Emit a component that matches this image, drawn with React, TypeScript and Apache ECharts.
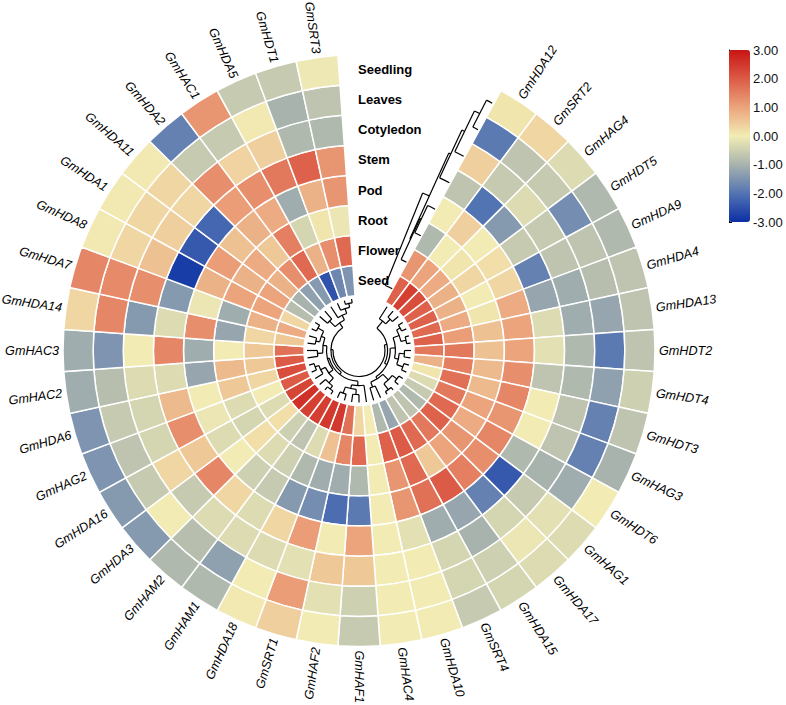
import React, { useEffect, useRef } from "react";
import * as echarts from "echarts";

// genes clockwise from the gap (top)
const genes = [
  "GmHDA12", "GmSRT2", "GmHAG4", "GmHDT5", "GmHDA9", "GmHDA4", "GmHDA13", "GmHDT2",
  "GmHDT4", "GmHDT3", "GmHAG3", "GmHDT6", "GmHAG1", "GmHDA17", "GmHDA15", "GmSRT4",
  "GmHDA10", "GmHAC4", "GmHAF1", "GmHAF2", "GmSRT1", "GmHDA18", "GmHAM1", "GmHAM2",
  "GmHDA3", "GmHDA16", "GmHAG2", "GmHDA6", "GmHAC2", "GmHAC3", "GmHDA14", "GmHDA7",
  "GmHDA8", "GmHDA1", "GmHDA11", "GmHDA2", "GmHAC1", "GmHDA5", "GmHDT1", "GmSRT3",
];

// rings, inner -> outer
const tissues = ["Seed", "Flower", "Root", "Pod", "Stem", "Cotyledon", "Leaves", "Seedling"];

const seedlingVals = [0.1, 0.3, -0.3, -0.9, -0.9, -0.7, -0.7, -0.7, -0.5, -0.7, -1.0, 0.0, -0.3, -0.3, -0.4, -0.6, 0.0, 0.0, -0.6, 0.0, 0.4, 0.05, -0.9, -0.9, -1.4, -1.4, -1.5, -1.5, -1.1, -1.1, 0.3, 1.4, 0.05, 0.05, 0.05, -1.8, 1.2, -0.6, -0.6, -0.05];
const leavesVals = [-1.9, -0.7, -0.6, -1.6, -0.7, -0.8, -1.2, -1.9, -1.3, -1.8, -1.8, -1.1, -0.2, -0.1, -0.5, -0.4, 0.0, 0.0, -0.5, -0.2, 1.1, 0.0, -1.3, -0.8, 0.0, -0.6, -0.7, -0.6, -0.8, -1.5, 1.4, 1.35, 0.3, 0.3, 0.3, -0.6, -0.6, 0.05, -1.0, -0.7];
const cotyledonVals = [0.4, -0.6, -0.3, -0.6, -0.7, -1.1, -1.1, -0.9, -0.9, -0.7, -0.7, -1.0, -0.6, -0.4, -1.0, -0.4, 0.0, 0.0, 0.5, 0.5, -0.2, -0.3, -0.3, -0.3, -0.6, 0.3, -0.4, -0.4, -0.3, 0.0, -1.4, 1.3, 0.6, 0.4, 0.3, 1.3, 0.35, 0.4, -0.9, -0.9];
const stemVals = [-0.7, -2.0, -1.4, -0.6, -1.8, -1.2, -0.3, -0.2, -0.7, 0.0, 0.0, -0.9, -2.4, -1.8, -1.2, -1.1, -0.2, 0.0, 1.0, 0.0, 1.1, 0.3, -0.3, 0.3, 1.4, 0.5, 1.3, 0.7, -0.3, 1.4, -0.3, -1.4, -2.8, -2.4, -2.2, 1.1, 1.3, 1.6, 1.9, 1.2];
const podVals = [0.0, 0.4, 0.0, 0.2, 0.3, 0.9, 1.0, 1.0, 1.3, 1.4, 1.2, 1.4, 1.3, 1.5, 2.0, 1.7, 1.2, 0.0, -1.9, -2.1, -1.6, -1.4, -0.6, -0.5, 0.0, -0.3, -0.1, 0.0, -1.2, -1.1, 1.3, -0.1, 0.8, 1.1, 0.6, 0.8, 0.9, -1.1, 0.8, 1.2];
const rootVals = [-0.9, 0.0, 0.1, 0.3, 0.0, 0.1, 0.6, 0.6, 0.7, 0.7, 1.0, 0.9, 1.2, 1.0, 0.5, 1.8, 1.2, 0.0, -0.9, -1.1, -1.1, -0.9, -0.5, -0.3, 0.2, -0.4, -0.3, 0.5, 0.7, 0.0, -1.2, -1.1, 1.0, 0.8, 0.9, 0.5, 1.5, -0.4, 0.1, -0.1];
const flowerVals = [1.2, 1.0, 0.9, 0.8, 0.8, 0.9, 1.1, 1.6, 1.5, 1.7, 1.6, 1.8, 1.9, 1.6, 1.8, 2.0, 1.9, 0.0, 1.8, 1.4, 0.6, -0.3, -0.7, -0.5, 0.2, -0.3, 0.0, 0.3, 0.5, 0.5, 0.3, 0.8, 1.0, 1.0, 0.8, 1.3, 1.8, 0.8, 1.3, 1.8];
const seedVals = [1.9, 2.4, 2.2, 1.9, 1.9, 1.8, 1.9, 1.6, 0.8, 0.1, -0.3, -0.6, -0.9, -0.7, -0.7, -1.2, -0.9, 0.0, 0.3, 1.7, 2.5, 2.5, 2.4, 2.4, 2.6, 2.3, 2.0, 2.2, 2.0, 1.7, 0.5, 0.9, 0.3, -0.8, -1.0, -1.3, -1.4, -2.5, -1.7, -1.5];

const ringValues = [seedVals, flowerVals, rootVals, podVals, stemVals, cotyledonVals, leavesVals, seedlingVals];

// colour bar range
const scaleMin = -3;
const scaleMax = 3;

// gene clustering tree: [height, left, right], leaves = gene index
type Tree = number | [number, Tree, Tree];
const geneTree: Tree = [1.0,
  [0.9,
    [0.55, 0, [0.3, 1, 2]],
    [0.8,
      [0.6, [0.35, [0.2, 3, 4], [0.15, 5, 6]], [0.45, [0.25, 7, 8], [0.2, 9, 10]]],
      [0.7, [0.4, [0.18, 11, 12], [0.12, 13, 14]], [0.5, 15, 16]]]],
  [0.92,
    [0.82,
      [0.65, 17, [0.5, [0.3, 18, 19], [0.25, 20, 21]]],
      [0.75,
        [0.55, [0.3, [0.15, 22, 23], 24], [0.35, 25, [0.2, 26, 27]]],
        [0.6, [0.4, 28, 29], [0.45, [0.3, 30, 31], [0.2, 32, 33]]]]],
    [0.7, [0.4, 34, 35], [0.5, 36, [0.3, 37, [0.15, 38, 39]]]]]];

// tissue clustering tree, leaves = tissue index (0 = Seed)
const tissueTree: Tree = [1.0, 0, [0.61, [0.55, 1, [0.47, 2, 3]], [0.52, 4, [0.41, 5, [0.21, 6, 7]]]]];

const GAP = 4; // empty slots at top of the circle
const SLOTS = genes.length + GAP;

function buildGeneSegs(tree: Tree) {
  const segs: number[][] = [];
  const walk = (n: Tree): { pos: number; h: number } => {
    if (typeof n === "number") return { pos: GAP + n, h: 0 };
    const a = walk(n[1]);
    const b = walk(n[2]);
    const h = n[0];
    segs.push([0, a.h, h, a.pos, 0]);
    segs.push([0, b.h, h, b.pos, 0]);
    segs.push([1, h, h, a.pos, b.pos]);
    return { pos: (a.pos + b.pos) / 2, h };
  };
  walk(tree);
  return segs;
}

function buildTissueSegs(tree: Tree) {
  const segs: number[][] = [];
  const depthToAngle = (d: number) => GAP - 0.54 - d * 0.77;
  const walk = (n: Tree): { pos: number; d: number } => {
    if (typeof n === "number") return { pos: n, d: 0 };
    const a = walk(n[1]);
    const b = walk(n[2]);
    const d = n[0];
    segs.push([1, a.pos, a.pos, depthToAngle(a.d), depthToAngle(d)]);
    segs.push([1, b.pos, b.pos, depthToAngle(b.d), depthToAngle(d)]);
    segs.push([0, a.pos, b.pos, depthToAngle(d), 0]);
    return { pos: (a.pos + b.pos) / 2, d };
  };
  walk(tree);
  return segs;
}

const segRender = (params: any, api: any) => {
  const kind = api.value(0);
  const cx = params.coordSys.cx;
  const cy = params.coordSys.cy;
  const style = { stroke: "#000", fill: null, lineWidth: 1.2 };
  if (kind === 0) {
    const p1 = api.coord([api.value(1), api.value(3)]);
    const p2 = api.coord([api.value(2), api.value(3)]);
    return { type: "line", shape: { x1: p1[0], y1: p1[1], x2: p2[0], y2: p2[1] }, style };
  }
  const c1 = api.coord([api.value(1), api.value(3)]);
  const c2 = api.coord([api.value(1), api.value(4)]);
  const s1 = -c1[3];
  const s2 = -c2[3];
  return {
    type: "arc",
    shape: { cx, cy, r: c1[2], startAngle: Math.min(s1, s2), endAngle: Math.max(s1, s2), clockwise: true },
    style,
  };
};

export default function App() {
  const ref = useRef<HTMLDivElement>(null);
  useEffect(() => {
    if (!ref.current) return;
    const chart = echarts.init(ref.current, null, { renderer: "svg" });
    const heatData: number[][] = [];
    ringValues.forEach((vals, t) => vals.forEach((v, i) => heatData.push([t, GAP + i, v])));
    const center = [359, 350.5];
    const angleBase = { type: "value", min: 0, max: SLOTS, startAngle: 90, clockwise: true, show: false };
    const option: any = {
      animation: false,
      backgroundColor: "#fff",
      polar: [
        { center, radius: [55, 296] },
        { center, radius: [0, 52] },
        { center, radius: [55, 296] },
      ],
      angleAxis: [
        { ...angleBase, polarIndex: 0 },
        { ...angleBase, polarIndex: 1 },
        { ...angleBase, polarIndex: 2 },
      ],
      radiusAxis: [
        { polarIndex: 0, type: "category", data: tissues, show: false },
        { polarIndex: 1, type: "value", min: 0, max: 2, inverse: true, show: false },
        { polarIndex: 2, type: "value", min: -0.5, max: tissues.length - 0.5, show: false },
      ],
      grid: { left: 729, top: 50, width: 21, height: 172, show: false },
      xAxis: { type: "value", show: false, min: 0, max: 1 },
      yAxis: {
        type: "value", position: "right", min: scaleMin, max: scaleMax, interval: 1,
        axisLine: { show: true, lineStyle: { color: "#000", width: 1 } },
        axisTick: { show: true, length: 3, lineStyle: { color: "#000" } },
        splitLine: { show: false },
        axisLabel: {
          formatter: (v: number) => v.toFixed(2), color: "#111", fontSize: 13, margin: 3,
          fontFamily: "'Liberation Sans', Arial, sans-serif",
        },
      },
      visualMap: {
        type: "continuous", min: scaleMin, max: scaleMax, dimension: 2, seriesIndex: 0,
        orient: "vertical", left: 729, top: 50, itemWidth: 21, itemHeight: 172,
        calculable: false, padding: 0, hoverLink: false,
        inRange: { color: ["#0b2fa4", "#5374b3", "#a8b3ad", "#f2ecb4", "#eba47c", "#dc5b46", "#c81414"] },
      },
      series: [
        {
          type: "custom", coordinateSystem: "polar", polarIndex: 0, data: heatData,
          encode: { radius: 0, angle: 1 },
          renderItem: (params: any, api: any) => {
            const vals = [api.value(0), api.value(1)];
            const coord = api.coord(vals);
            const size = api.size([1, 1], vals);
            return {
              type: "sector",
              shape: {
                cx: params.coordSys.cx, cy: params.coordSys.cy,
                r0: coord[2] - size[0] / 2, r: coord[2] + size[0] / 2,
                startAngle: -(coord[3] + size[1] / 2), endAngle: -(coord[3] - size[1] / 2),
              },
              style: { fill: api.visual("color"), stroke: "#fff", lineWidth: 1.5 },
            };
          },
        },
        {
          type: "custom", coordinateSystem: "polar", polarIndex: 1, data: buildGeneSegs(geneTree),
          encode: { radius: 1, angle: 3 }, renderItem: segRender, silent: true,
        },
        {
          type: "custom", coordinateSystem: "polar", polarIndex: 2, data: buildTissueSegs(tissueTree),
          encode: { radius: 1, angle: 3 }, renderItem: segRender, silent: true,
        },
        {
          type: "custom", coordinateSystem: "polar", polarIndex: 0, silent: true,
          data: genes.map((g, i) => [tissues.length - 1, GAP + i, i]),
          encode: { radius: 0, angle: 1 },
          renderItem: (params: any, api: any) => {
            const coord = api.coord([api.value(0), api.value(1)]);
            const phi = coord[3];
            const R = params.coordSys.r + 4;
            const x = params.coordSys.cx + R * Math.cos(phi);
            const y = params.coordSys.cy - R * Math.sin(phi);
            const right = Math.cos(phi) > -1e-6;
            return {
              type: "text", x, y, rotation: right ? phi : phi + Math.PI,
              style: {
                text: genes[api.value(2)], fill: "#000", fontSize: 12.6, fontStyle: "italic",
                fontFamily: "'Liberation Sans', Arial, sans-serif",
                align: right ? "left" : "right", verticalAlign: "middle",
              },
            };
          },
        },
        {
          type: "custom", coordinateSystem: "polar", polarIndex: 2, silent: true,
          data: tissues.map((t, i) => [i, 0, i]),
          encode: { radius: 0, angle: 1 },
          renderItem: (params: any, api: any) => {
            const p = api.coord([api.value(0), api.value(1)]);
            return {
              type: "text", x: p[0] - 1, y: p[1],
              style: {
                text: tissues[api.value(2)], fill: "#000", fontSize: 13, fontWeight: "bold",
                fontFamily: "'Liberation Sans', Arial, sans-serif", align: "left", verticalAlign: "middle",
              },
            };
          },
        },
        { type: "line", xAxisIndex: 0, yAxisIndex: 0, data: [] },
      ],
    };
    chart.setOption(option);
    return () => chart.dispose();
  }, []);
  return (
    <div
      ref={ref}
      style={{ position: "fixed", left: 0, top: 0, width: 786, height: 705, background: "#fff" }}
    />
  );
}
